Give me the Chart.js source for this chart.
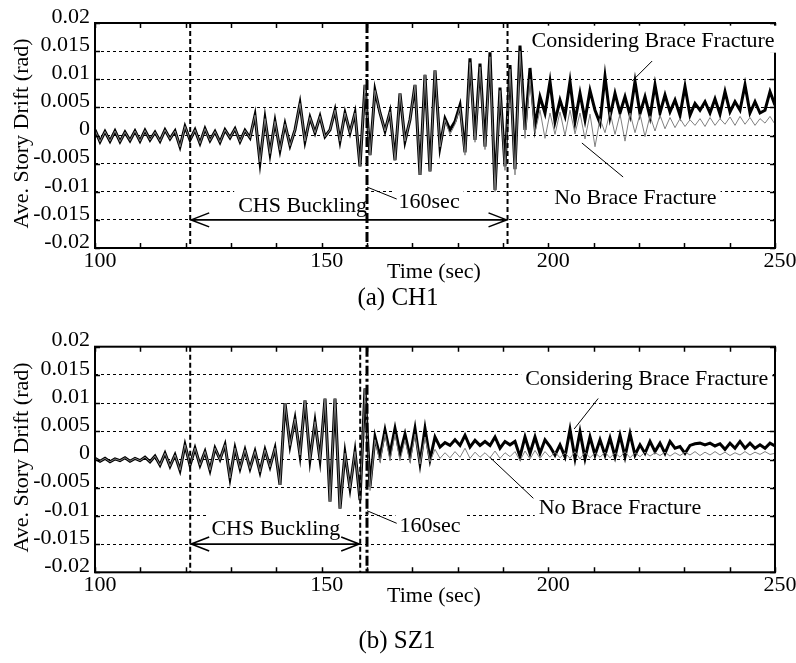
<!DOCTYPE html>
<html><head><meta charset="utf-8">
<script src="https://cdn.jsdelivr.net/npm/chart.js@4.4.1/dist/chart.umd.min.js"></script>
<style>
html,body{margin:0;padding:0;background:#fff;}
body{width:796px;height:663px;position:relative;overflow:hidden;font-family:"Liberation Serif","Times New Roman",serif;}
.cv{position:absolute;left:0;}
.cap{position:absolute;font-size:25px;color:#000;white-space:nowrap;transform:translateX(-50%);line-height:1;}
</style></head><body>
<canvas id="c1" class="cv" width="796" height="310" style="top:0;width:796px;height:310px"></canvas>
<canvas id="c2" class="cv" width="796" height="343" style="top:320px;width:796px;height:343px"></canvas>
<div class="cap" style="left:398px;top:284px">(a) CH1</div>
<div class="cap" style="left:397px;top:627px">(b) SZ1</div>
<script>
// ---------------- DATA ----------------
const xTickLabels = ['100', '150', '200', '250'];
const yTickLabels = ['-0.02', '-0.015', '-0.01', '-0.005', '0', '0.005', '0.01', '0.015', '0.02'];
const seriesNames = ['No Brace Fracture', 'Considering Brace Fracture'];
const T_START = 100, T_END = 250; // sampling window of the records (sec)

// (a) CH1 - identical response before the fracture begins to matter
const ch1Common = [
  0.0010,-0.0011,0.0007,-0.0010,0.0008,-0.0011,0.0006,-0.0009,0.0008,-0.0010,
  0.0009,-0.0008,0.0006,-0.0010,0.0010,-0.0006,0.0008,-0.0020,0.0016,-0.0008,
  0.0010,-0.0014,0.0012,-0.0009,0.0007,-0.0012,0.0010,-0.0004,0.0012,-0.0011,
  0.0009,-0.0004,0.0036,-0.0047,0.0030,-0.0032,0.0025,-0.0026,0.0020,-0.0018,
  0.0010,0.0057,-0.0010,0.0032,0.0005,0.0034,-0.0002,0.0010,0.0045,-0.0010,
  0.0040,0.0005,0.0040,-0.0055,0.0090,-0.0035,0.0080,0.0040,0.0008,0.0042,
  -0.0044,0.0075,-0.0010,0.0028,0.0090,-0.0070,0.0108,-0.0064,0.0116,-0.0020
];
const ch1FractureTail = [
  0.0030,0.0010,0.0025,0.0054,-0.0030,0.0137,-0.0008,0.0128,-0.0020,0.0148,
  -0.0097,0.0085,-0.0055,0.0125,-0.0060,0.0160,0.0010,0.0120,0.0016,0.0069,
  0.0040,0.0096,0.0025,0.0063,0.0035,0.0096,0.0025,0.0075,0.0028,0.0080,
  0.0045,0.0022,0.0105,0.0033,0.0075,0.0040,0.0069,0.0036,0.0096,0.0039,
  0.0069,0.0033,0.0090,0.0040,0.0072,0.0042,0.0063,0.0036,0.0087,0.0036,
  0.0057,0.0045,0.0060,0.0040,0.0065,0.0038,0.0078,0.0042,0.0060,0.0045,
  0.0090,0.0040,0.0060,0.0040,0.0045,0.0078,0.0054
];
const ch1NoFractureTail = [
  0.0028,0.0002,0.0020,0.0050,-0.0035,0.0130,-0.0012,0.0122,-0.0025,0.0140,
  -0.0100,0.0080,-0.0062,0.0118,-0.0070,0.0150,-0.0005,0.0100,0.0005,0.0045,
  -0.0005,0.0040,0.0002,0.0042,0.0000,0.0045,0.0003,0.0040,-0.0006,0.0038,
  -0.0020,0.0030,0.0005,0.0042,0.0002,0.0038,-0.0010,0.0040,0.0005,0.0038,
  -0.0002,0.0035,0.0008,0.0036,0.0012,0.0032,0.0014,0.0030,0.0016,0.0028,
  0.0018,0.0030,0.0016,0.0032,0.0018,0.0030,0.0020,0.0033,0.0018,0.0034,
  0.0020,0.0032,0.0018,0.0030,0.0022,0.0034,0.0020
];

// (b) SZ1
const sz1Common = [
  0.0002,-0.0003,0.0002,-0.0004,0.0001,-0.0002,0.0003,-0.0003,0.0002,-0.0002,
  0.0004,-0.0004,0.0006,-0.0010,0.0011,-0.0012,0.0008,-0.0019,0.0026,-0.0010,
  0.0020,-0.0010,0.0014,-0.0019,0.0020,0.0000,0.0026,-0.0033,0.0020,-0.0016,
  0.0017,-0.0016,0.0014,-0.0022,0.0017,-0.0013,0.0020,-0.0045,0.0100,0.0025,
  0.0072,0.0008,0.0105,0.0000,0.0067,0.0000,0.0108,-0.0075,0.0108,-0.0087,
  0.0011,-0.0051,0.0014,-0.0072,0.0126
];
const sz1FractureTail = [
  -0.0048,0.0040,0.0005,0.0052,0.0010,
  0.0055,0.0010,0.0045,0.0005,0.0055,-0.0007,0.0055,0.0000,0.0040,0.0022,
  0.0030,0.0025,0.0035,0.0025,0.0043,0.0022,0.0034,0.0025,0.0032,0.0025,
  0.0040,0.0020,0.0032,0.0026,0.0032,0.0005,0.0040,0.0011,0.0040,0.0011,
  0.0035,0.0023,0.0008,0.0026,0.0005,0.0053,0.0002,0.0049,0.0002,0.0040,
  0.0008,0.0035,0.0008,0.0038,0.0005,0.0043,0.0005,0.0046,0.0008,0.0026,
  0.0011,0.0032,0.0014,0.0029,0.0011,0.0032,0.0020,0.0023,0.0011,0.0025,
  0.0028,0.0029,0.0026,0.0029,0.0024,0.0028,0.0018,0.0029,0.0020,0.0032,
  0.0020,0.0029,0.0020,0.0026,0.0020,0.0029,0.0024
];
const sz1NoFractureTail = [
  -0.0055,0.0035,-0.0005,0.0045,-0.0002,
  0.0045,-0.0002,0.0035,-0.0005,0.0045,-0.0008,0.0040,-0.0004,0.0018,0.0002,
  0.0012,0.0003,0.0014,0.0004,0.0020,0.0002,0.0013,0.0004,0.0012,0.0003,
  0.0015,0.0002,0.0012,0.0005,0.0014,-0.0002,0.0015,0.0001,0.0016,0.0002,
  0.0014,0.0004,0.0013,0.0003,0.0012,0.0002,0.0014,0.0001,0.0013,0.0003,
  0.0012,0.0004,0.0013,0.0003,0.0012,0.0004,0.0014,0.0003,0.0012,0.0005,
  0.0013,0.0006,0.0012,0.0007,0.0013,0.0006,0.0012,0.0007,0.0013,0.0008,
  0.0014,0.0007,0.0013,0.0008,0.0014,0.0008,0.0013,0.0007,0.0012,0.0008,
  0.0014,0.0008,0.0013,0.0009,0.0014,0.0009,0.0011
];

const ch1Fracture = ch1Common.concat(ch1FractureTail);
const ch1NoFracture = ch1Common.concat(ch1NoFractureTail);
const sz1Fracture = sz1Common.concat(sz1FractureTail);
const sz1NoFracture = sz1Common.concat(sz1NoFractureTail);

// ---------------- ANNOTATIONS (data units) ----------------
const panels = {
  ch1: {
    markers: [{t: 121, kind: 'dash'}, {t: 191, kind: 'dash'}, {t: 160, kind: 'dashdot'}],
    arrow: {t0: 121, t1: 191, v: -0.015},
    labels: [
      {text: 'Considering Brace Fracture', t: 223.1, v: 0.01579},
      {text: 'No Brace Fracture', t: 219.2, v: -0.01218},
      {text: 'CHS Buckling', t: 145.8, v: -0.01355},
      {text: '160sec', t: 173.7, v: -0.01294}
    ],
    leaders: [
      {t0: 160, v0: -0.00916, t1: 166.55, v1: -0.01129},
      {t0: 207.4, v0: -0.00133, t1: 216.5, v1: -0.00738},
      {t0: 222.9, v0: 0.01324, t1: 218.5, v1: 0.00969}
    ]
  },
  sz1: {
    markers: [{t: 121, kind: 'dash'}, {t: 158.5, kind: 'dash'}, {t: 160, kind: 'dashdot'}],
    arrow: {t0: 121, t1: 158.5, v: -0.015},
    labels: [
      {text: 'Considering Brace Fracture', t: 221.7, v: 0.01321},
      {text: 'No Brace Fracture', t: 215.8, v: -0.00966},
      {text: 'CHS Buckling', t: 139.9, v: -0.01339},
      {text: '160sec', t: 173.9, v: -0.01285}
    ],
    leaders: [
      {t0: 160, v0: -0.00908, t1: 166.55, v1: -0.01131},
      {t0: 187.1, v0: 0.00039, t1: 196.7, v1: -0.00688},
      {t0: 211.0, v0: 0.01082, t1: 205.7, v1: 0.00541}
    ]
  }
};

// ---------------- CHART ----------------
const FONT = '"Liberation Serif", "Times New Roman", serif';
const n = ch1Fracture.length;
const time = ch1Fracture.map((_, i) => T_START + i * (T_END - T_START) / (n - 1));
const pts = vals => vals.map((v, i) => ({x: time[i], y: v}));

function decor(panel) {
  return {
    id: 'decor',
    afterDatasetsDraw(chart) {
      const {ctx, chartArea: a, scales: {x, y}} = chart;
      const X = v => x.getPixelForValue(v), Y = v => y.getPixelForValue(v);
      ctx.save();
      ctx.setLineDash([]);
      ctx.strokeStyle = '#000';
      // frame
      ctx.lineWidth = 2;
      ctx.strokeRect(a.left, a.top, a.right - a.left, a.bottom - a.top);
      // inward tick marks
      ctx.lineWidth = 1.5;
      ctx.beginPath();
      x.ticks.forEach(tk => {
        const px = Math.round(X(tk.value)) + 0.5;
        ctx.moveTo(px, a.bottom); ctx.lineTo(px, a.bottom - 5);
        ctx.moveTo(px, a.top); ctx.lineTo(px, a.top + 5);
      });
      y.ticks.forEach(tk => {
        const py = Math.round(Y(tk.value)) + 0.5;
        ctx.moveTo(a.left, py); ctx.lineTo(a.left + 5, py);
        ctx.moveTo(a.right, py); ctx.lineTo(a.right - 5, py);
      });
      ctx.stroke();
      // text labels with white boxes
      ctx.font = '22px ' + FONT;
      ctx.textAlign = 'left';
      ctx.textBaseline = 'alphabetic';
      panel.labels.forEach(l => {
        const w = ctx.measureText(l.text).width;
        const x0 = X(l.t) - w / 2, by = Y(l.v);
        ctx.fillStyle = '#fff';
        ctx.fillRect(x0 - 4, by - 21, w + 8, 27);
        ctx.fillStyle = '#000';
        ctx.fillText(l.text, x0, by);
      });
      // vertical markers
      panel.markers.forEach(m => {
        const px = X(m.t);
        if (m.kind === 'dash') { ctx.lineWidth = 2; ctx.setLineDash([5, 3]); }
        else { ctx.lineWidth = 3; ctx.setLineDash([10, 3, 3, 3]); }
        ctx.beginPath(); ctx.moveTo(px, a.top); ctx.lineTo(px, a.bottom); ctx.stroke();
      });
      ctx.setLineDash([]);
      // leader lines
      ctx.lineWidth = 1;
      ctx.beginPath();
      panel.leaders.forEach(l => { ctx.moveTo(X(l.t0), Y(l.v0)); ctx.lineTo(X(l.t1), Y(l.v1)); });
      ctx.stroke();
      // double arrow
      const ar = panel.arrow, ax0 = X(ar.t0), ax1 = X(ar.t1), ay = Y(ar.v);
      ctx.lineWidth = 1.6;
      ctx.beginPath();
      ctx.moveTo(ax0, ay); ctx.lineTo(ax1, ay);
      ctx.moveTo(ax0 + 19, ay - 7); ctx.lineTo(ax0 + 1, ay); ctx.lineTo(ax0 + 19, ay + 7);
      ctx.moveTo(ax1 - 19, ay - 7); ctx.lineTo(ax1 - 1, ay); ctx.lineTo(ax1 - 19, ay + 7);
      ctx.stroke();
      // axis titles
      ctx.fillStyle = '#000';
      ctx.textAlign = 'center';
      ctx.fillText('Time (sec)', (a.left + a.right) / 2 - 1, a.bottom + 29.5);
      ctx.save();
      ctx.translate(28, (a.top + a.bottom) / 2 - 2);
      ctx.rotate(-Math.PI / 2);
      ctx.fillText('Ave. Story Drift (rad)', 0, 0);
      ctx.restore();
      ctx.restore();
    }
  };
}

function makeChart(id, plotTop, plotBottom, fracture, noFracture, panel) {
  const canvas = document.getElementById(id);
  const H = canvas.height;
  return new Chart(canvas, {
    type: 'line',
    data: {
      datasets: [
        {label: seriesNames[0], data: pts(noFracture), borderColor: '#808080', borderWidth: 1},
        {label: seriesNames[1], data: pts(fracture), borderColor: '#000', borderWidth: 3}
      ]
    },
    options: {
      responsive: false,
      animation: false,
      devicePixelRatio: 1,
      layout: {padding: {top: plotTop, right: 21, left: 0, bottom: 0}},
      elements: {point: {radius: 0}, line: {tension: 0, borderJoinStyle: 'miter', fill: false}},
      plugins: {legend: {display: false}, tooltip: {enabled: false}},
      scales: {
        x: {
          type: 'linear', min: 100, max: 250,
          afterFit: s => { s.height = H - plotBottom; },
          grid: {display: false, drawTicks: false},
          border: {display: false},
          ticks: {
            stepSize: 10, autoSkip: false, maxRotation: 0, padding: 0, labelOffset: 5,
            color: '#000', font: {family: FONT, size: 22},
            callback: v => { const s = String(Math.round(v)); return xTickLabels.includes(s) ? s : ''; }
          }
        },
        y: {
          type: 'linear', min: -0.02, max: 0.02,
          afterFit: s => { s.width = 95; },
          grid: {color: '#000', lineWidth: 1, drawTicks: false},
          border: {display: false, dash: [3, 3]},
          ticks: {
            stepSize: 0.005, autoSkip: false, padding: 5, labelOffset: -6,
            color: '#000', font: {family: FONT, size: 22},
            callback: v => yTickLabels[Math.round(v / 0.005) + 4]
          }
        }
      }
    },
    plugins: [decor(panel)]
  });
}

makeChart('c1', 23, 248, ch1Fracture, ch1NoFracture, panels.ch1);
makeChart('c2', 26.7, 252.3, sz1Fracture, sz1NoFracture, panels.sz1);
</script>
</body></html>
